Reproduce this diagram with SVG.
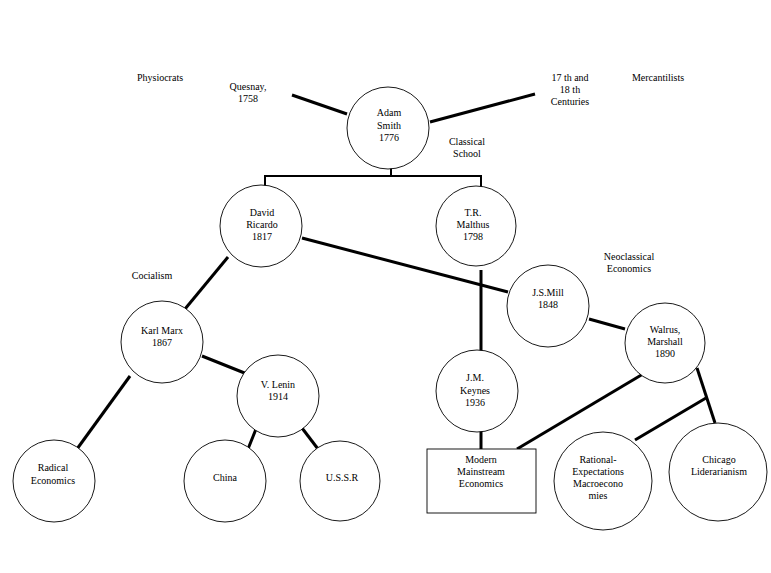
<svg xmlns="http://www.w3.org/2000/svg" width="771" height="573" viewBox="0 0 771 573">
<style>
.n{fill:#fff;stroke:#000;stroke-width:0.9}
.c{stroke:#000;stroke-width:3;fill:none}
text{font-family:"Liberation Serif","Times New Roman",serif;font-size:10px;fill:#000;text-anchor:middle}
</style>
<rect width="771" height="573" fill="#fff"/>
<g id="connectors">
<line class="c" x1="292" y1="95" x2="347" y2="114"/>
<line class="c" x1="430" y1="122" x2="535" y2="94"/>
<polyline class="c" points="391,167 391,176" style="stroke-width:2"/>
<polyline class="c" points="265,186 265,176 481,176 481,187" style="stroke-width:2"/>
<line class="c" x1="302" y1="238" x2="508" y2="292"/>
<line class="c" x1="481" y1="270" x2="481" y2="351"/>
<line class="c" x1="589" y1="319" x2="625" y2="329"/>
<line class="c" x1="228" y1="257" x2="185" y2="309"/>
<line class="c" x1="202" y1="356" x2="247" y2="374"/>
<line class="c" x1="130" y1="376" x2="77" y2="449"/>
<line class="c" x1="256" y1="429" x2="248" y2="449"/>
<line class="c" x1="302" y1="428" x2="318" y2="449"/>
<line class="c" x1="481" y1="431" x2="481" y2="449"/>
<line class="c" x1="517" y1="449" x2="643" y2="374"/>
<line class="c" x1="697" y1="368" x2="715" y2="423"/>
<line class="c" x1="706" y1="398" x2="635" y2="440"/>
</g>
<g id="labels">
<text x="160" y="81">Physiocrats</text>
<text x="248" y="90">Quesnay,</text>
<text x="248" y="102">1758</text>
<text x="570" y="81">17 th and</text>
<text x="570" y="93">18 th</text>
<text x="570" y="105">Centuries</text>
<text x="658" y="81">Mercantilists</text>
<text x="467" y="145">Classical</text>
<text x="467" y="157">School</text>
<text x="152" y="279">Cocialism</text>
<text x="629" y="260">Neoclassical</text>
<text x="629" y="272">Economics</text>
</g>
<g id="smith"><circle class="n" cx="388" cy="128" r="41"/><text x="389" y="116">Adam</text><text x="389" y="129">Smith</text><text x="389" y="141">1776</text></g>
<g id="ricardo"><circle class="n" cx="261" cy="226" r="41"/><text x="262" y="216">David</text><text x="262" y="228">Ricardo</text><text x="262" y="240">1817</text></g>
<g id="malthus"><circle class="n" cx="476" cy="226" r="40"/><text x="473" y="216">T.R.</text><text x="473" y="228">Malthus</text><text x="473" y="240">1798</text></g>
<g id="mill"><circle class="n" cx="548" cy="306" r="41"/><text x="548" y="296">J.S.Mill</text><text x="548" y="308">1848</text></g>
<g id="walrus"><circle class="n" cx="665" cy="343" r="40"/><text x="665" y="333">Walrus,</text><text x="665" y="345">Marshall</text><text x="665" y="357">1890</text></g>
<g id="marx"><circle class="n" cx="162" cy="342" r="41"/><text x="162" y="334">Karl Marx</text><text x="162" y="346">1867</text></g>
<g id="lenin"><circle class="n" cx="278" cy="396" r="41"/><text x="278" y="388">V. Lenin</text><text x="278" y="400">1914</text></g>
<g id="radical"><circle class="n" cx="54" cy="481" r="41"/><text x="53" y="471">Radical</text><text x="53" y="484">Economics</text></g>
<g id="china"><circle class="n" cx="225" cy="481" r="41"/><text x="225" y="481">China</text></g>
<g id="ussr"><circle class="n" cx="340" cy="481" r="40"/><text x="342" y="481">U.S.S.R</text></g>
<g id="keynes"><circle class="n" cx="477" cy="391" r="41"/><text x="475" y="381">J.M.</text><text x="475" y="394">Keynes</text><text x="475" y="406">1936</text></g>
<g id="modern"><rect class="n" x="427" y="449" width="109" height="64"/><text x="481" y="463">Modern</text><text x="481" y="475">Mainstream</text><text x="481" y="487">Economics</text></g>
<g id="rational"><circle class="n" cx="603" cy="481" r="49"/><text x="598" y="463">Rational-</text><text x="598" y="475">Expectations</text><text x="598" y="487">Macroecono</text><text x="598" y="499">mies</text></g>
<g id="chicago"><circle class="n" cx="718" cy="472" r="49"/><text x="719" y="463">Chicago</text><text x="719" y="475">Liderarianism</text></g>
</svg>
